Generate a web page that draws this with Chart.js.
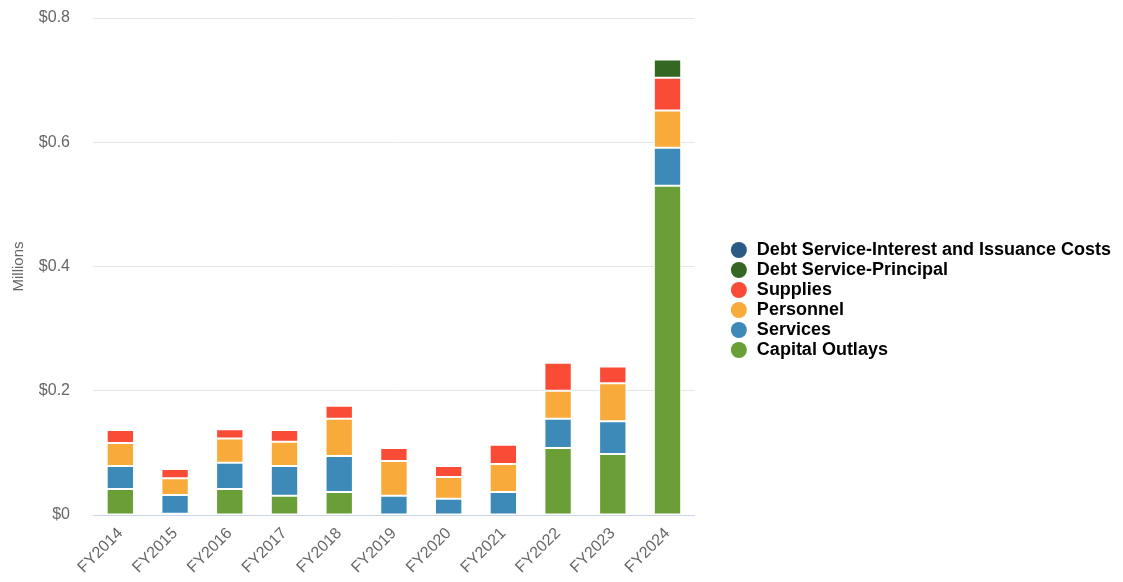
<!DOCTYPE html>
<html>
<head>
<meta charset="utf-8">
<script src="https://cdn.jsdelivr.net/npm/chart.js@4/dist/chart.umd.min.js"></script>
<style>
html,body{margin:0;padding:0;background:#fff;}
#wrap{width:1123px;height:582px;position:relative;}
</style>
</head>
<body>
<div id="wrap"><canvas id="c" width="1123" height="582"></canvas></div>
<script>
const categories = ["FY2014","FY2015","FY2016","FY2017","FY2018","FY2019","FY2020","FY2021","FY2022","FY2023","FY2024"];
const capitalOutlays = [0.042, 0.002, 0.042, 0.031, 0.037, 0, 0, 0, 0.108, 0.098, 0.530];
const services       = [0.037, 0.030, 0.042, 0.048, 0.058, 0.031, 0.026, 0.037, 0.047, 0.053, 0.061];
const personnel      = [0.037, 0.027, 0.039, 0.039, 0.060, 0.056, 0.035, 0.045, 0.045, 0.061, 0.060];
const supplies       = [0.021, 0.015, 0.015, 0.019, 0.021, 0.021, 0.018, 0.031, 0.045, 0.027, 0.053];
const debtPrincipal  = [0, 0, 0, 0, 0, 0, 0, 0, 0, 0, 0.029];
const debtInterest   = [0, 0, 0, 0, 0, 0, 0, 0, 0, 0, 0];
const yTicks = [0, 0.2, 0.4, 0.6, 0.8];
const yTickLabels = ["$0", "$0.2", "$0.4", "$0.6", "$0.8"];

const seriesNames = ["Capital Outlays","Services","Personnel","Supplies","Debt Service-Principal","Debt Service-Interest and Issuance Costs"];
const seriesData = [capitalOutlays, services, personnel, supplies, debtPrincipal, debtInterest];
const seriesColors = ["#6a9f38","#3d8ab8","#f8ab3a","#fa4b37","#346722","#2b5a85"];

const FONT = "'Liberation Sans', Arial, Helvetica, sans-serif";

const datasets = seriesNames.map((n, i) => ({
  label: n,
  data: seriesData[i],
  backgroundColor: seriesColors[i],
  borderColor: "#ffffff",
  borderWidth: 1,
  borderSkipped: false,
  categoryPercentage: 1,
  barPercentage: 0.5,
  pointStyle: 'circle'
}));

new Chart(document.getElementById('c'), {
  type: 'bar',
  data: { labels: categories, datasets },
  options: {
    responsive: false,
    animation: false,
    layout: { padding: { left: 0, right: 2, top: 18, bottom: 0 } },
    plugins: {
      tooltip: { enabled: false },
      legend: {
        position: 'right',
        align: 'center',
        reverse: true,
        maxWidth: 400,
        labels: {
          usePointStyle: true,
          pointStyle: 'circle',
          boxWidth: 18,
          boxHeight: 11.3,
          padding: 2,
          color: '#333333',
          font: { family: FONT, size: 18, weight: 'bold' },
          generateLabels: (chart) => chart.data.datasets.map((d, i) => ({
            text: d.label,
            fillStyle: d.backgroundColor,
            strokeStyle: d.backgroundColor,
            lineWidth: 0,
            pointStyle: 'circle',
            hidden: false,
            datasetIndex: i
          }))
        }
      }
    },
    scales: {
      x: {
        stacked: true,
        grid: { display: false, drawTicks: false },
        border: { display: true, color: '#ccd6eb', width: 1 },
        ticks: {
          color: '#666666',
          font: { family: FONT, size: 16 },
          minRotation: 45, maxRotation: 45,
          padding: 9,
          autoSkip: false
        },
        afterFit: (s) => { s.height = 67; }
      },
      y: {
        stacked: true,
        min: 0, max: 0.8,
        afterBuildTicks: (s) => { s.ticks = yTicks.map(v => ({ value: v })); },
        grid: {
          color: (ctx) => ctx.tick && ctx.tick.value === 0 ? 'rgba(0,0,0,0)' : '#e6e6e6',
          drawTicks: true,
          tickLength: 20,
          tickColor: 'rgba(0,0,0,0)',
          lineWidth: 1
        },
        border: { display: false },
        ticks: {
          color: '#666666',
          font: { family: FONT, size: 16 },
          padding: 3,
          callback: (v) => { const i = yTicks.indexOf(v); return i >= 0 ? yTickLabels[i] : ''; }
        },
        title: {
          display: true,
          text: 'Millions',
          color: '#666666',
          font: { family: FONT, size: 15 },
          padding: { top: 10, bottom: 0 }
        },
        afterFit: (s) => { s.width = 93; }
      },
      gap: {
        type: 'linear',
        position: 'right',
        display: true,
        grid: { display: false, drawTicks: false },
        border: { display: false },
        ticks: { display: false },
        afterFit: (s) => { s.width = 33; }
      }
    }
  }
});
</script>
</body>
</html>
